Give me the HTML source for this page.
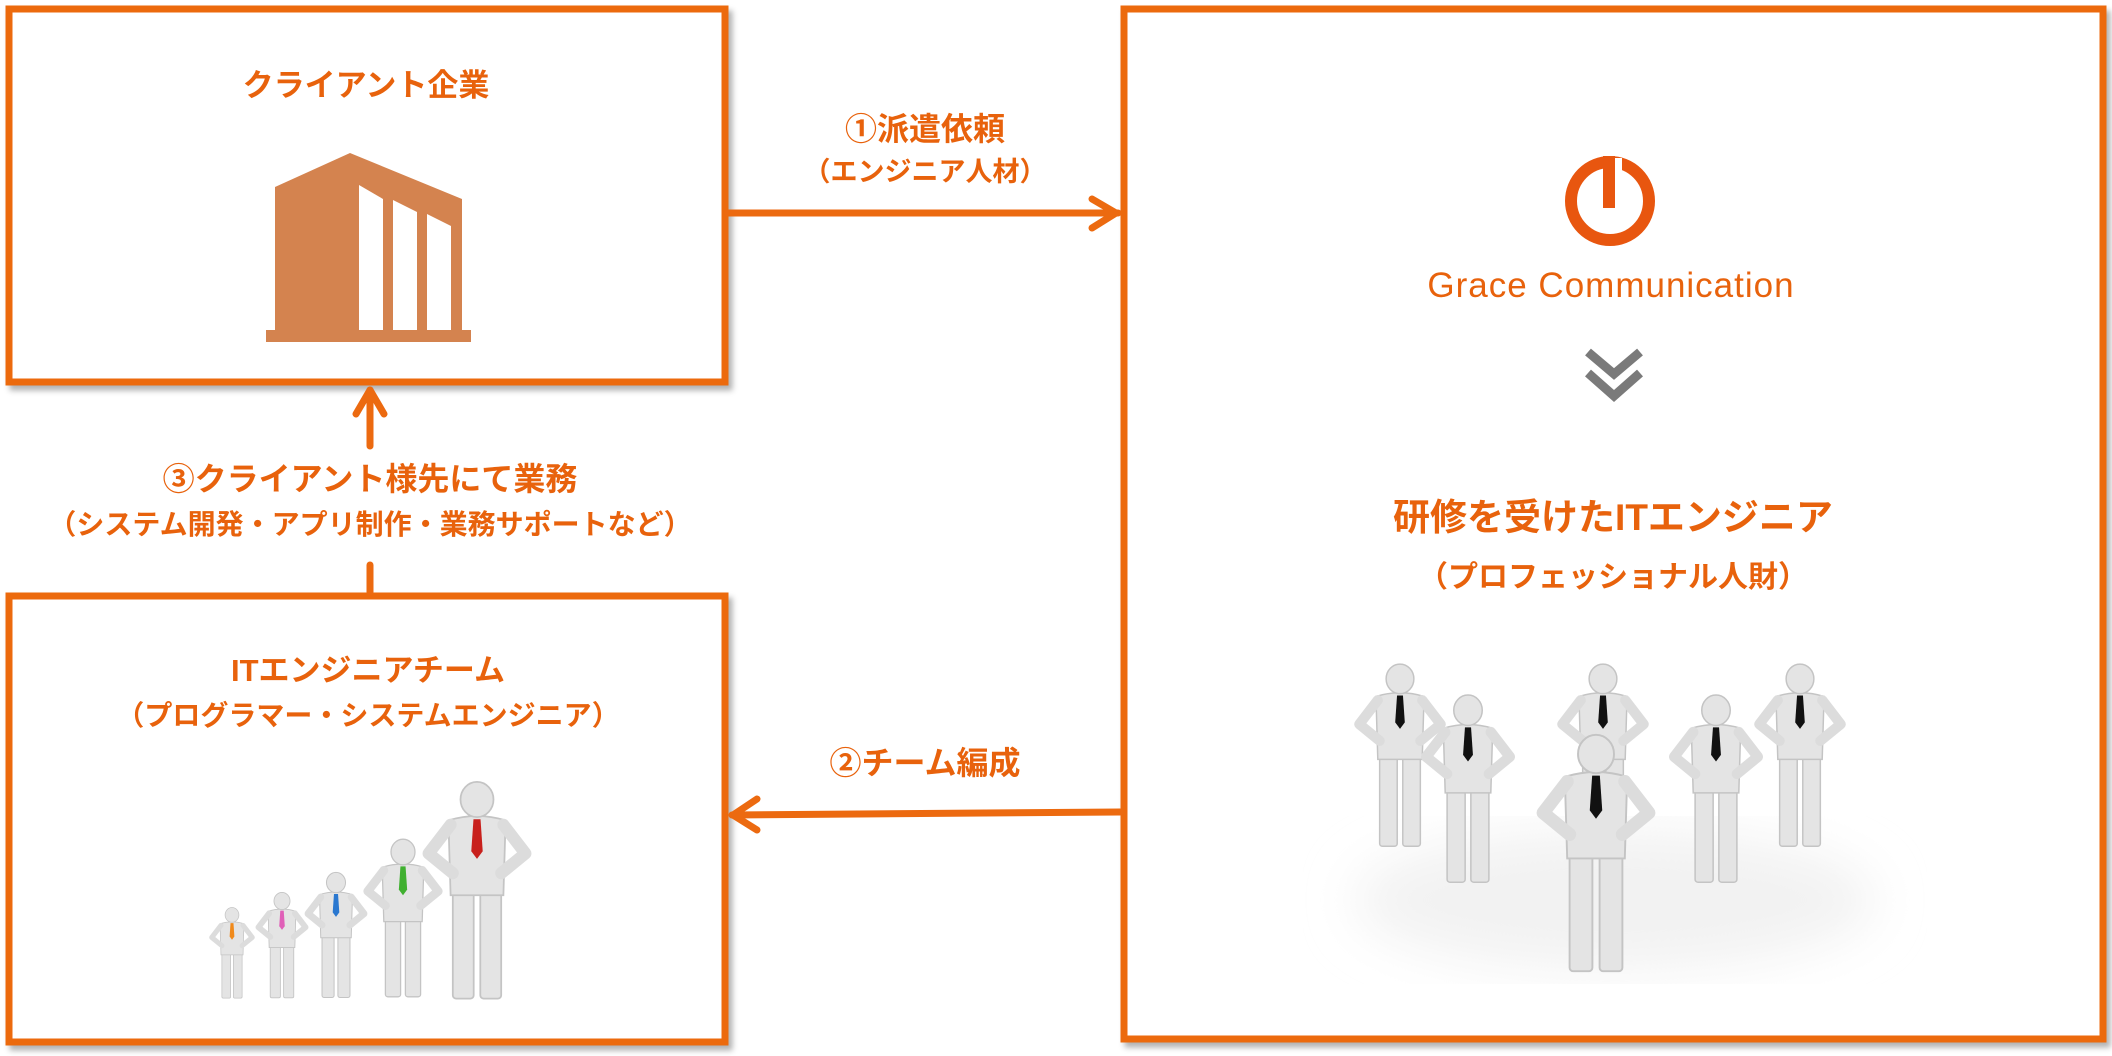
<!DOCTYPE html>
<html><head><meta charset="utf-8"><style>
html,body{margin:0;padding:0;background:#fff;}
svg{display:block;}
text{font-family:"Liberation Sans","Noto Sans CJK JP",sans-serif;font-weight:bold;fill:#e8620c;}
</style></head><body>
<svg width="2112" height="1056" viewBox="0 0 2112 1056" xmlns="http://www.w3.org/2000/svg">
<defs>
<filter id="sh" x="-5%" y="-5%" width="110%" height="110%"><feDropShadow dx="4" dy="5" stdDeviation="3" flood-color="#000" flood-opacity="0.3"/></filter>
<filter id="bl"><feGaussianBlur stdDeviation="25"/></filter>
<symbol id="fig" viewBox="-30 0 60 100" overflow="visible">
 <g fill="#e4e4e4" stroke="#c4c4c4" stroke-width="0.8">
  <rect x="-11" y="48" width="9.5" height="50" rx="1.5"/>
  <rect x="1.5" y="48" width="9.5" height="50" rx="1.5"/>
  <path d="M-13,17 Q0,13 13,17 L12,51 L-12,51 Z"/>
  <ellipse cx="0" cy="7.5" rx="7.5" ry="8"/>
 </g>
 <path d="M-12,19 L-22,32 L-11,41 M12,19 L22,32 L11,41" fill="none" stroke="#dcdcdc" stroke-width="5.5" stroke-linecap="round" stroke-linejoin="round"/>
 <path d="M-1.6,16.5 L1.6,16.5 L2.6,31 L0,34.5 L-2.6,31 Z" fill="currentColor"/>
</symbol>
</defs>

<g fill="#fff" stroke="#ec6a10" stroke-width="7" filter="url(#sh)">
 <rect x="9" y="9" width="716" height="373"/>
 <rect x="9" y="596" width="716" height="446"/>
 <rect x="1124" y="9" width="979" height="1030"/>
</g>

<g stroke="#ec6a10" stroke-width="7" fill="none" stroke-linecap="round" stroke-linejoin="round">
 <line x1="728" y1="213" x2="1118" y2="213"/>
 <polyline points="1092,199 1116,213 1092,228"/>
 <line x1="1120" y1="812" x2="732" y2="815"/>
 <polyline points="757,799 733,815 757,830"/>
 <line x1="370" y1="390" x2="370" y2="446"/>
 <polyline points="356,414 370,390 384,414"/>
 <line x1="370" y1="565" x2="370" y2="592"/>
</g>

<text x="366" y="96" font-size="31" text-anchor="middle">クライアント企業</text>
<text x="925" y="140" font-size="32" text-anchor="middle">①派遣依頼</text>
<text x="925" y="181" font-size="27" text-anchor="middle">（エンジニア人材）</text>
<text x="370" y="490" font-size="32" text-anchor="middle">③クライアント様先にて業務</text>
<text x="370" y="534" font-size="28" text-anchor="middle">（システム開発・アプリ制作・業務サポートなど）</text>
<text x="925" y="774" font-size="32" text-anchor="middle">②チーム編成</text>
<text x="368" y="681" font-size="31" text-anchor="middle">ITエンジニアチーム</text>
<text x="368" y="725" font-size="28" text-anchor="middle">（プログラマー・システムエンジニア）</text>

<!-- building -->
<g fill="#d4834f">
 <polygon points="275,187 350,153 462,199 462,331 275,331"/>
 <rect x="266" y="330" width="205" height="12"/>
</g>
<g fill="#fff">
 <polygon points="359,185 383,199 383,330 359,330"/>
 <polygon points="393,200 417,212 417,330 393,330"/>
 <polygon points="427,214 451,226 451,330 427,330"/>
</g>

<use href="#fig" x="202" y="908" width="60" height="92" style="color:#f08a1c"/>
<use href="#fig" x="248" y="893" width="68" height="107" style="color:#e060b8"/>
<use href="#fig" x="296" y="873" width="80" height="127" style="color:#2a78d0"/>
<use href="#fig" x="353" y="840" width="100" height="160" style="color:#40b030"/>
<use href="#fig" x="408" y="783" width="138" height="220" style="color:#c8201c"/>

<!-- logo -->
<circle cx="1610" cy="201" r="39" fill="none" stroke="#e8560f" stroke-width="12"/>
<rect x="1611" y="158" width="11" height="50" fill="#fff"/>
<rect x="1603" y="156" width="12" height="52" fill="#e8560f"/>
<text x="1611" y="297" font-size="35" text-anchor="middle" style="font-weight:normal;fill:#e8620c;letter-spacing:1px">Grace Communication</text>

<g fill="none" stroke="#7a7a7a" stroke-width="9">
 <polyline points="1588,352 1614,374 1640,352"/>
 <polyline points="1588,373 1614,396 1640,373"/>
</g>

<text x="1613" y="530" font-size="37" text-anchor="middle">研修を受けたITエンジニア</text>
<text x="1613" y="587" font-size="30" text-anchor="middle">（プロフェッショナル人財）</text>

<ellipse cx="1615" cy="900" rx="260" ry="70" fill="#f2f2f2" filter="url(#bl)"/>
<use href="#fig" x="1330" y="665" width="140" height="185" style="color:#111"/>
<use href="#fig" x="1533" y="665" width="140" height="185" style="color:#111"/>
<use href="#fig" x="1730" y="665" width="140" height="185" style="color:#111"/>
<use href="#fig" x="1398" y="696" width="140" height="190" style="color:#111"/>
<use href="#fig" x="1646" y="696" width="140" height="190" style="color:#111"/>
<use href="#fig" x="1506" y="736" width="180" height="240" style="color:#111"/>
</svg>
</body></html>
